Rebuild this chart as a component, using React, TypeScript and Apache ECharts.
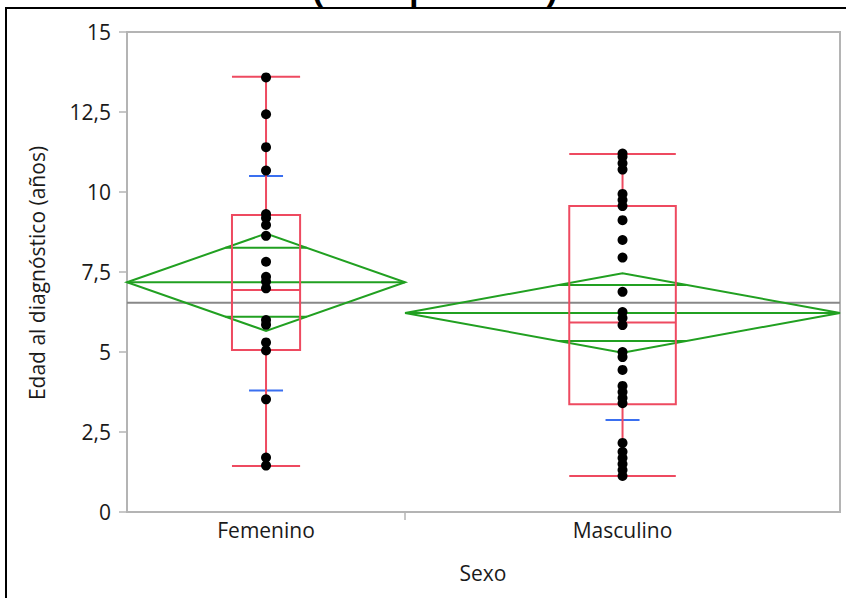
import React, { useEffect, useRef } from "react";
import * as echarts from "echarts";

const categories = ["Femenino", "Masculino"];
const femeninoValues = [13.58, 12.43, 11.4, 10.67, 9.31, 9.19, 8.97, 8.63, 7.82, 7.35, 7.2, 6.99, 6.0, 5.85, 5.3, 5.05, 3.52, 1.7, 1.45];
const masculinoValues = [11.2, 11.1, 10.9, 10.7, 9.94, 9.75, 9.56, 9.12, 8.5, 7.95, 6.88, 6.25, 6.06, 5.84, 5.0, 4.84, 4.44, 3.94, 3.75, 3.56, 3.4, 2.16, 1.88, 1.69, 1.5, 1.31, 1.125];
// [lower whisker, Q1, median, Q3, upper whisker]
const boxStats = [
  [1.44, 5.06, 6.94, 9.28, 13.6],
  [1.125, 3.37, 5.92, 9.56, 11.19],
];
const groupMeans = [7.18, 6.22];
const ciHalfWidths = [1.52, 1.24];
const sdLines = [
  [3.8, 10.5],
  [2.875, 9.56],
];
const grandMean = 6.54;
// share of the x axis each group occupies (JMP: proportional to group size)
const groupShares = [0.39, 0.61];
const titleText = "(edad por sexo)";
const yAxisTitle = "Edad al diagnóstico (años)";
const xAxisTitle = "Sexo";

const FONT = "'Open Sans', 'Noto Sans', sans-serif";
const RED = "#ee4a60";
const GREEN = "#21a021";
const BLUE = "#3a6ff0";

export default function App() {
  const ref = useRef<HTMLDivElement>(null);

  useEffect(() => {
    if (!ref.current) return;
    const chart = echarts.init(ref.current, undefined, { renderer: "svg" });

    const edges = [0, groupShares[0], groupShares[0] + groupShares[1]];
    const centers = [0, 1].map((g) => (edges[g] + edges[g + 1]) / 2);
    const groupValues = [femeninoValues, masculinoValues];

    const renderGroup = (params: any, api: any) => {
      const g = api.value(0) as number;
      const left = edges[g];
      const right = edges[g + 1];
      const c = centers[g];
      const band = right - left;
      const boxHalf = band * 0.245 / 2;
      const m = groupMeans[g];
      const h = ciHalfWidths[g];
      const d = h / Math.SQRT2;
      const ovHalf = (band / 2) * (1 - d / h);
      const P = (x: number, y: number) => api.coord([x, y]);
      const lineEl = (x1: number, y1: number, x2: number, y2: number, color: string, w = 2) => {
        const a = P(x1, y1);
        const b = P(x2, y2);
        return {
          type: "line",
          shape: { x1: a[0], y1: a[1], x2: b[0], y2: b[1] },
          style: { stroke: color, lineWidth: w },
        };
      };
      const children: any[] = [];
      // diamond
      children.push({
        type: "polygon",
        shape: { points: [P(left, m), P(c, m + h), P(right, m), P(c, m - h)] },
        style: { fill: "none", stroke: GREEN, lineWidth: 2 },
      });
      children.push(lineEl(left, m, right, m, GREEN));
      children.push(lineEl(c - ovHalf, m + d, c + ovHalf, m + d, GREEN));
      children.push(lineEl(c - ovHalf, m - d, c + ovHalf, m - d, GREEN));
      // std dev marks
      const cpx = P(c, 0)[0];
      sdLines[g].forEach((v) => {
        const yy = P(c, v)[1];
        children.push({
          type: "line",
          shape: { x1: cpx - 17, y1: yy, x2: cpx + 17, y2: yy },
          style: { stroke: BLUE, lineWidth: 2 },
        });
      });
      // box plot
      const [lo, q1, med, q3, hi] = boxStats[g];
      const tl = P(c - boxHalf, q3);
      const br = P(c + boxHalf, q1);
      children.push({
        type: "rect",
        shape: { x: tl[0], y: tl[1], width: br[0] - tl[0], height: br[1] - tl[1] },
        style: { fill: "none", stroke: RED, lineWidth: 2 },
      });
      children.push(lineEl(c - boxHalf, med, c + boxHalf, med, RED));
      children.push(lineEl(c, q3, c, hi, RED));
      children.push(lineEl(c, q1, c, lo, RED));
      children.push(lineEl(c - boxHalf, hi, c + boxHalf, hi, RED));
      children.push(lineEl(c - boxHalf, lo, c + boxHalf, lo, RED));
      return { type: "group", children };
    };

    const scatterData: number[][] = [];
    groupValues.forEach((vals, g) => vals.forEach((v) => scatterData.push([centers[g], v])));

    chart.setOption({
      animation: false,
      backgroundColor: "#ffffff",
      grid: {
        left: 127,
        right: 6,
        top: 32,
        bottom: 86,
        show: true,
        borderColor: "#b4b4b4",
        borderWidth: 2,
      },
      xAxis: {
        type: "value",
        min: 0,
        max: 1,
        splitLine: { show: false },
        axisLine: { show: true, lineStyle: { color: "#b4b4b4", width: 2 } },
        axisTick: {
          show: true,
          length: 8,
          customValues: [edges[1]],
          lineStyle: { color: "#b4b4b4", width: 1.5 },
        },
        axisLabel: {
          show: true,
          customValues: centers,
          formatter: (v: number) => (v < edges[1] ? categories[0] : categories[1]),
          color: "#1a1a1a",
          fontSize: 21,
          fontFamily: FONT,
          margin: 7,
        },
      },
      yAxis: {
        type: "value",
        min: 0,
        max: 15,
        interval: 2.5,
        splitLine: { show: false },
        axisLine: { show: true, lineStyle: { color: "#b4b4b4", width: 2 } },
        axisTick: { show: true, length: 8, lineStyle: { color: "#b4b4b4", width: 1.5 } },
        axisLabel: {
          formatter: (v: number) => String(v).replace(".", ","),
          color: "#1a1a1a",
          fontSize: 21,
          fontFamily: FONT,
          margin: 16,
        },
      },
      graphic: [
        {
          type: "rect",
          shape: { x: 6, y: 8, width: 900, height: 700 },
          style: { fill: "none", stroke: "#000", lineWidth: 2 },
          z: 100,
        },
        {
          type: "text",
          x: 312,
          y: -28,
          style: {
            text: titleText,
            font: "bold 33px 'Liberation Sans', Arial, sans-serif",
            fill: "#000",
            textAlign: "left",
            textVerticalAlign: "top",
          },
        },
        {
          type: "text",
          x: 37,
          y: 273,
          rotation: Math.PI / 2,
          style: {
            text: yAxisTitle,
            font: `21px ${FONT}`,
            fill: "#1a1a1a",
            textAlign: "center",
            textVerticalAlign: "middle",
          },
        },
        {
          type: "text",
          x: 483,
          y: 573,
          style: {
            text: xAxisTitle,
            font: `21px ${FONT}`,
            fill: "#1a1a1a",
            textAlign: "center",
            textVerticalAlign: "middle",
          },
        },
      ],
      series: [
        {
          type: "line",
          data: [
            [0, grandMean],
            [1, grandMean],
          ],
          symbol: "none",
          lineStyle: { color: "#888", width: 2 },
          z: 1,
          silent: true,
        },
        {
          type: "custom",
          data: [[0], [1]],
          renderItem: renderGroup,
          z: 2,
          silent: true,
        },
        {
          type: "scatter",
          data: scatterData,
          symbol: "circle",
          symbolSize: 10,
          itemStyle: { color: "#000", opacity: 1 },
          z: 3,
        },
      ],
    });

    return () => chart.dispose();
  }, []);

  return (
    <div
      ref={ref}
      style={{ position: "absolute", left: 0, top: 0, width: 846, height: 598 }}
    />
  );
}
